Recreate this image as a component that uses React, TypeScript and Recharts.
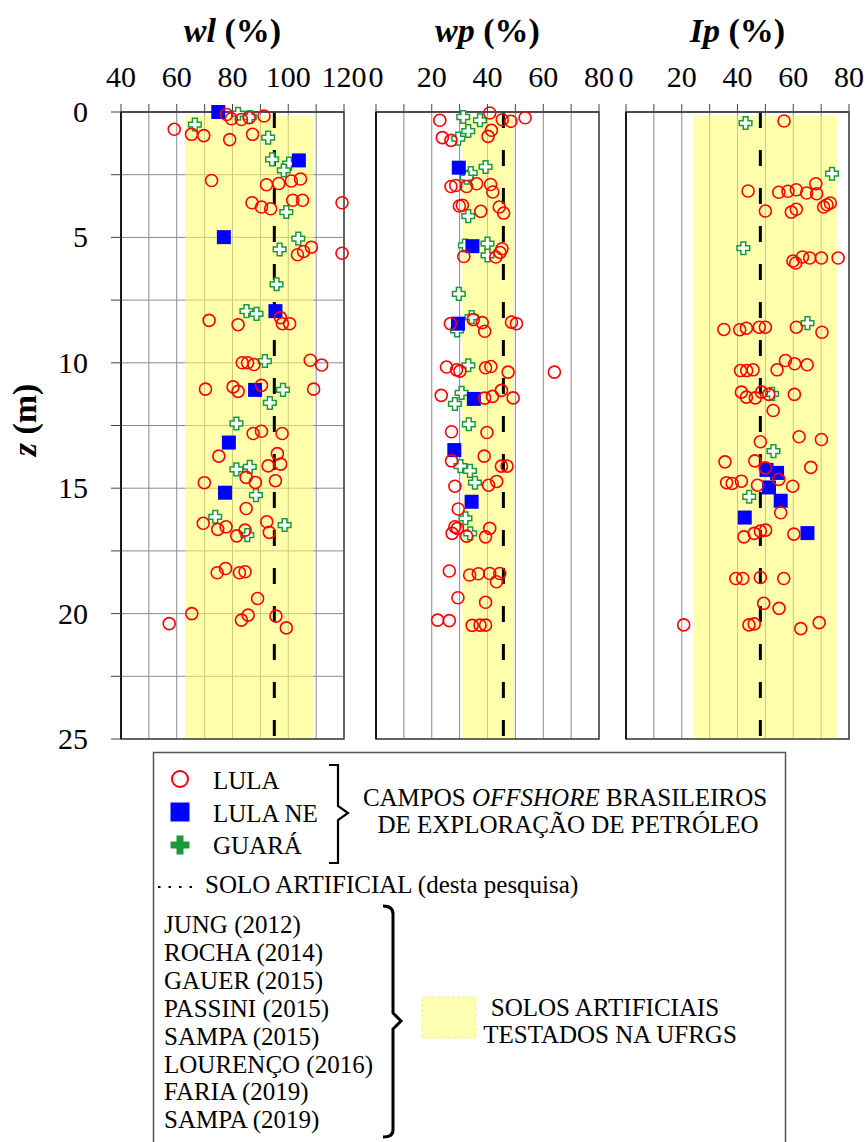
import React from "react";
import {
  ScatterChart,
  Scatter,
  XAxis,
  YAxis,
  CartesianGrid,
  ReferenceArea,
  ReferenceLine,
} from "recharts";

const FONT = '"Liberation Serif", "Times New Roman", serif';

// [value, z (m)]
const wlLula: [number, number][] = [
  [77.9, 0.1], [79.6, 0.27], [83.2, 0.3], [86, 0.23], [91.3, 0.16],
  [59.1, 0.69], [65.3, 0.89], [69.7, 0.94], [79, 1.1], [87.2, 0.89],
  [72.5, 2.73], [92.2, 2.9], [96.6, 2.85], [101.1, 2.75], [104.4, 2.67],
  [87, 3.62], [90.4, 3.79], [93.7, 3.86], [101.6, 3.52], [105.1, 3.52], [119.3, 3.62],
  [103.3, 5.69], [105.5, 5.56], [108.3, 5.39], [119.3, 5.63],
  [71.6, 8.31], [82, 8.48], [97.2, 8.2], [97.9, 8.44], [100.5, 8.44],
  [83.5, 10.0], [85.4, 10.0], [87.7, 10.07], [107.9, 9.9], [112, 10.09],
  [70.3, 11.05], [80.2, 10.96], [82, 11.14], [90.4, 10.9], [109.1, 11.05],
  [87.4, 12.82], [90.4, 12.73], [97.8, 12.82], [75.1, 13.72], [96.1, 13.62], [92.8, 14.11], [97.3, 14.04],
  [84.9, 14.57], [88.2, 14.77], [95.4, 14.7], [69.9, 14.78], [84.9, 15.81],
  [69.5, 16.4], [74.7, 16.64], [77.7, 16.54], [84.5, 16.67], [81.5, 16.9], [92.3, 16.34], [93.2, 16.76],
  [74.5, 18.37], [77.5, 18.2], [82.5, 18.37], [84.5, 18.33], [89, 19.4],
  [65.4, 20], [57.3, 20.4], [83.2, 20.26], [85.6, 20.06], [95.6, 20.1], [99.3, 20.57],
];
const wlLulaNe: [number, number][] = [
  [74.9, 0], [103.8, 1.93], [76.9, 4.99], [95.4, 7.94], [88.1, 11.08], [78.7, 13.18], [77.3, 15.18],
];
const wlGuara: [number, number][] = [
  [82, 0.07], [86.2, 0.2], [66.5, 0.5], [92.8, 1.02], [94.2, 1.89], [100.3, 2.06], [98.4, 2.33],
  [99.3, 3.99], [103.6, 5.05], [96.9, 5.48], [95.8, 6.87], [85, 7.94], [88.6, 8.05], [91.6, 9.93],
  [98.1, 11.08], [93.4, 11.6], [81.4, 12.42], [81.4, 14.25], [86.2, 14.15], [88.4, 15.28],
  [73.8, 16.14], [85.3, 16.87], [98.7, 16.47],
];

const wpLula: [number, number][] = [
  [22.9, 0.33], [40.8, 0.04], [45.3, 0.31], [48.4, 0.37], [53.5, 0.23], [41.4, 0.73], [40.2, 0.97], [23.8, 1.02], [26.9, 1.13],
  [26.9, 2.97], [28.6, 2.93], [32.5, 2.97], [36.1, 2.86], [41.1, 2.89], [41.9, 3.19],
  [29.9, 3.75], [31, 3.72], [37.6, 3.96], [44.2, 3.79], [45.8, 4.03],
  [31.5, 5.76], [43, 5.78], [44.5, 5.6], [45.2, 5.45],
  [26.7, 8.44], [34.9, 8.28], [38.1, 8.4], [39, 8.74], [48.6, 8.38], [50.4, 8.44],
  [25.3, 10.17], [28.9, 10.28], [30.1, 10.33], [39.3, 10.2], [41.2, 10.15], [47.4, 10.37], [64, 10.37],
  [23.4, 11.3], [39, 11.41], [41.8, 11.34], [45, 11.1], [49.2, 11.4],
  [27.1, 12.75], [39.8, 12.78], [38.8, 13.72], [27.1, 13.91], [45, 14.12], [47, 14.12],
  [28.3, 14.92], [40.4, 14.88], [43.3, 14.73], [29.5, 15.83],
  [28.3, 16.54], [29.2, 16.6], [27.3, 16.8], [32.5, 16.91], [40.8, 16.6], [39.3, 16.94],
  [26.3, 18.3], [33.6, 18.46], [36.7, 18.41], [40.8, 18.4], [44.4, 18.4], [43.2, 18.73],
  [29.4, 19.37], [39.3, 19.55],
  [22.1, 20.26], [26.3, 20.28], [34.5, 20.47], [37.3, 20.46], [39.3, 20.46],
];
const wpLulaNe: [number, number][] = [
  [29.7, 2.22], [34.6, 5.35], [29.4, 8.44], [35.1, 11.44], [28.1, 13.48], [34.3, 15.54],
];
const wpGuara: [number, number][] = [
  [31.3, 0.2], [37.3, 0.33], [33.1, 0.76], [29.5, 1.06], [39.3, 2.19], [34, 2.43], [32.5, 2.62],
  [33.1, 4.15], [31.9, 5.32], [40, 5.25], [40, 5.72], [29.7, 7.25], [34.3, 8.18], [29.1, 8.71],
  [33.1, 10.1], [30.7, 11.2], [28.3, 11.64], [33.3, 12.45], [30.3, 14.12], [33.7, 14.31],
  [35.5, 14.78], [32.1, 16.2], [33.8, 16.8],
];

const ipLula: [number, number][] = [
  [56.7, 0.36], [43.8, 3.15], [54.8, 3.2], [58.1, 3.16], [61.1, 3.1], [64.8, 3.23], [68.1, 2.86], [68.4, 3.26],
  [70.9, 3.79], [72.1, 3.7], [73.3, 3.63], [50, 3.95], [59.3, 3.99], [61.1, 3.88],
  [59.9, 5.94], [60.9, 6.02], [63.3, 5.78], [65.9, 5.82], [70.1, 5.82], [76.1, 5.82],
  [35.1, 8.67], [40.8, 8.68], [43.2, 8.62], [47.8, 8.58], [50, 8.58], [61.1, 8.58], [70.3, 8.78],
  [57.2, 9.91], [60.5, 10.04], [65, 10.08], [41.1, 10.31], [43.3, 10.31], [45.6, 10.28], [54.2, 10.28],
  [41.4, 11.17], [43.2, 11.37], [46.4, 11.4], [48.6, 11.17], [51.2, 11.26], [60.4, 11.26], [52.8, 11.9],
  [48.2, 13.15], [62.1, 12.95], [70.1, 13.06], [35.5, 13.95], [46.2, 13.91], [50, 14.19], [66.3, 14.17],
  [36.1, 14.78], [38.1, 14.81], [41.4, 14.72], [47.2, 14.88], [54.8, 14.65], [59.8, 14.92], [55.5, 15.98],
  [42.3, 16.94], [46, 16.8], [48.2, 16.71], [50.1, 16.67], [60.2, 16.83],
  [39.4, 18.6], [41.9, 18.6], [48.2, 18.56], [56.6, 18.6], [49.4, 19.59], [54.9, 19.79],
  [20.7, 20.45], [44.1, 20.45], [46, 20.41], [62.7, 20.6], [69.3, 20.36],
];
const ipLulaNe: [number, number][] = [
  [50.4, 14.27], [54.2, 14.39], [51.3, 14.97], [55.5, 15.5], [42.6, 16.17], [65.1, 16.79],
];
const ipGuara: [number, number][] = [
  [42.9, 0.44], [73.9, 2.46], [42.1, 5.43], [65.1, 8.42], [52.4, 11.24], [52.9, 13.52], [44.2, 15.34],
];

// faixa dos solos artificiais UFRGS e solo desta pesquisa
const wlBand = [63, 109];
const wpBand = [31, 49.5];
const ipBand = [24.4, 75.8];
const wlSolo = 95;
const wpSolo = 45.7;
const ipSolo = 48.2;

const wlTicks = [40, 50, 60, 70, 80, 90, 100, 110, 120];
const pctTicks = [0, 10, 20, 30, 40, 50, 60, 70, 80];
const zTicks = [0, 2.5, 5, 7.5, 10, 12.5, 15, 17.5, 20, 22.5, 25];

const REFS = [
  "JUNG (2012)",
  "ROCHA (2014)",
  "GAUER (2015)",
  "PASSINI (2015)",
  "SAMPA (2015)",
  "LOURENÇO (2016)",
  "FARIA (2019)",
  "SAMPA (2019)",
];

const toPts = (arr: [number, number][]) => arr.map(([x, y]) => ({ x, y }));

const RED = "#FF0000";
const BLUE = "#0000FF";
const GREEN = "#1A9A3A";

const plusPath = (cx: number, cy: number, a: number, w: number) =>
  `M${cx - w},${cy - a}H${cx + w}V${cy - w}H${cx + a}V${cy + w}H${cx + w}V${cy + a}H${cx - w}V${cy + w}H${cx - a}V${cy - w}H${cx - w}Z`;

const CircleMark = (p: any) => (
  <circle cx={p.cx} cy={p.cy} r={6} fill="none" stroke={RED} strokeWidth={1.6} />
);
const SquareMark = (p: any) => (
  <rect x={p.cx - 7} y={p.cy - 7} width={14} height={14} fill={BLUE} />
);
const PlusMark = (p: any) => (
  <path d={plusPath(p.cx, p.cy, 6.3, 2.4)} fill="#fff" stroke={GREEN} strokeWidth={1.5} />
);

const XTick = (p: any) => {
  const v = p.payload?.value;
  if (v % 20 !== 0) return <g />;
  return (
    <text x={p.x} y={p.y} textAnchor="middle" fontSize={30} fontFamily={FONT} fill="#000">
      {v}
    </text>
  );
};

const YTick = (p: any) => {
  const v = p.payload?.value;
  if (v % 5 !== 0) return <g />;
  return (
    <text x={p.x} y={p.y} dy={10} textAnchor="end" fontSize={30} fontFamily={FONT} fill="#000">
      {v}
    </text>
  );
};

function Panel({
  left,
  width,
  marginLeft,
  marginRight,
  yWidth,
  domain,
  ticks,
  lula,
  lulaNe,
  guara,
  band,
  solo,
  showYLabels,
}: {
  left: number;
  width: number;
  marginLeft: number;
  marginRight: number;
  yWidth: number;
  domain: [number, number];
  ticks: number[];
  lula: [number, number][];
  lulaNe: [number, number][];
  guara: [number, number][];
  band: number[];
  solo: number;
  showYLabels: boolean;
}) {
  return (
    <div style={{ position: "absolute", left, top: 0 }}>
      <ScatterChart
        width={width}
        height={760}
        margin={{ top: 82, right: marginRight, left: marginLeft, bottom: 21 }}
        style={{ fontFamily: FONT }}
      >
        <CartesianGrid stroke="#8a8a8a" strokeWidth={1} />
        <XAxis
          type="number"
          dataKey="x"
          orientation="top"
          domain={domain}
          ticks={ticks}
          interval={0}
          height={30}
          tickSize={8}
          tickMargin={17}
          tick={<XTick />}
          axisLine={{ stroke: "#444", strokeWidth: 1.5 }}
          tickLine={{ stroke: "#444" }}
        />
        <YAxis
          type="number"
          dataKey="y"
          domain={[0, 25]}
          reversed
          ticks={zTicks}
          interval={0}
          width={yWidth}
          tickSize={10}
          tickMargin={23}
          tick={showYLabels ? <YTick /> : false}
          axisLine={{ stroke: "#000", strokeWidth: 1.5 }}
          tickLine={{ stroke: "#444" }}
        />
        <ReferenceArea
          x1={band[0]}
          x2={band[1]}
          y1={0.15}
          y2={25}
          fill="#FFFF66"
          fillOpacity={0.55}
          stroke="none"
        />
        <ReferenceLine x={solo} stroke="#000" strokeWidth={3} strokeDasharray="16 22" />
        <ReferenceArea
          x1={domain[0]}
          x2={domain[1]}
          y1={0}
          y2={25}
          fill="none"
          fillOpacity={0}
          stroke="#444"
          strokeWidth={1.5}
        />
        <Scatter data={toPts(guara)} shape={PlusMark} isAnimationActive={false} />
        <Scatter data={toPts(lulaNe)} shape={SquareMark} isAnimationActive={false} />
        <Scatter data={toPts(lula)} shape={CircleMark} isAnimationActive={false} />
      </ScatterChart>
    </div>
  );
}

function Title({ x, a, b }: { x: number; a: string; b: string }) {
  return (
    <text x={x} y={42} textAnchor="middle" fontSize={34} fontWeight="bold" fontFamily={FONT}>
      <tspan fontStyle="italic">{a}</tspan>
      <tspan> {b}</tspan>
    </text>
  );
}

function Legend() {
  const t = { fontSize: 25, fontFamily: FONT, fill: "#000" } as const;
  return (
    <g>
      <rect x={153.5} y={752.5} width={632} height={420} fill="none" stroke="#555" strokeWidth={1.5} />
      <circle cx={180} cy={779} r={8} fill="none" stroke={RED} strokeWidth={2} />
      <rect x={170.5} y={802.5} width={19} height={19} fill={BLUE} />
      <path d={plusPath(180, 845, 9.5, 3.5)} fill={GREEN} />
      <text x={213} y={789} {...t}>LULA</text>
      <text x={213} y={822} {...t}>LULA NE</text>
      <text x={213} y={854} {...t}>GUARÁ</text>
      <path
        d="M329,765 H338 V806 L348,813 L338,820 V863 H329"
        fill="none"
        stroke="#000"
        strokeWidth={2.2}
      />
      <text x={565} y={806} textAnchor="middle" {...t}>
        CAMPOS <tspan fontStyle="italic">OFFSHORE</tspan> BRASILEIROS
      </text>
      <text x={568} y={833} textAnchor="middle" {...t}>
        DE EXPLORAÇÃO DE PETRÓLEO
      </text>
      <line x1={158} x2={197} y1={887} y2={887} stroke="#000" strokeWidth={2} strokeDasharray="2.5 8" />
      <text x={205} y={893} {...t}>SOLO ARTIFICIAL (desta pesquisa)</text>
      {REFS.map((r, i) => (
        <text key={r + i} x={164} y={933 + i * 27.9} {...t}>
          {r}
        </text>
      ))}
      <path
        d="M383,906 Q393,906 393,914 V1013 L401,1021 L393,1029 V1130 Q393,1137 383,1137"
        fill="none"
        stroke="#000"
        strokeWidth={3}
      />
      <rect
        x={422}
        y={997}
        width={54}
        height={41}
        fill="#FFFFB3"
        stroke="#F2EE80"
        strokeDasharray="3 2"
      />
      <text x={605} y={1016} textAnchor="middle" {...t}>SOLOS ARTIFICIAIS</text>
      <text x={610} y={1043} textAnchor="middle" {...t}>TESTADOS NA UFRGS</text>
    </g>
  );
}

export default function App() {
  return (
    <div
      style={{
        position: "absolute",
        left: 0,
        top: 0,
        width: 867,
        height: 1142,
        overflow: "hidden",
        background: "#fff",
        fontFamily: FONT,
      }}
    >
      <Panel
        left={0}
        width={379}
        marginLeft={61}
        marginRight={35}
        yWidth={60}
        domain={[40, 120]}
        ticks={wlTicks}
        lula={wlLula}
        lulaNe={wlLulaNe}
        guara={wlGuara}
        band={wlBand}
        solo={wlSolo}
        showYLabels
      />
      <Panel
        left={346}
        width={273}
        marginLeft={20}
        marginRight={20}
        yWidth={10}
        domain={[0, 80]}
        ticks={pctTicks}
        lula={wpLula}
        lulaNe={wpLulaNe}
        guara={wpGuara}
        band={wpBand}
        solo={wpSolo}
        showYLabels={false}
      />
      <Panel
        left={596}
        width={271}
        marginLeft={20}
        marginRight={18}
        yWidth={10}
        domain={[0, 80]}
        ticks={pctTicks}
        lula={ipLula}
        lulaNe={ipLulaNe}
        guara={ipGuara}
        band={ipBand}
        solo={ipSolo}
        showYLabels={false}
      />
      <svg
        width={867}
        height={1142}
        style={{ position: "absolute", left: 0, top: 0, pointerEvents: "none" }}
      >
        <Title x={232.5} a="wl" b="(%)" />
        <Title x={487.5} a="wp" b="(%)" />
        <Title x={737.5} a="Ip" b="(%)" />
        <text
          transform="translate(36,420) rotate(-90)"
          textAnchor="middle"
          fontSize={34}
          fontWeight="bold"
          fontFamily={FONT}
        >
          <tspan fontStyle="italic">z</tspan>
          <tspan> (m)</tspan>
        </text>
        <Legend />
      </svg>
    </div>
  );
}
